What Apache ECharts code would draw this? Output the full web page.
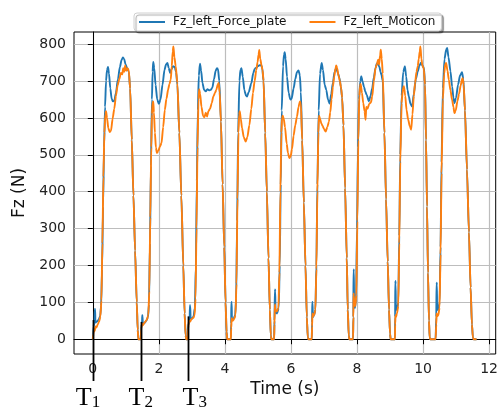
<!DOCTYPE html>
<html><head><meta charset="utf-8">
<script src="https://cdn.jsdelivr.net/npm/echarts@6/dist/echarts.min.js"></script>
<style>html,body{margin:0;padding:0;background:#fff}#c{width:501px;height:410px}</style>
</head><body><div id="c"></div>
<script>
const seriesNames = ['Fz_left_Force_plate', 'Fz_left_Moticon'];
const xTicks = [0, 2, 4, 6, 8, 10, 12];
const yTicks = [0, 100, 200, 300, 400, 500, 600, 700, 800];
const xLabel = 'Time (s)';
const yLabel = 'Fz (N)';

// [time (s), force (N)]
const forcePlate = [
[0,0],[0.02,35],[0.05,45],[0.058,80],[0.07,82],[0.078,45],[0.12,48],[0.17,52],[0.22,62],[0.25,90],[0.28,190],[0.31,360],[0.34,520],[0.37,630],[0.40,700],[0.43,730],[0.46,738],[0.49,720],[0.53,680],[0.57,652],[0.61,645],[0.65,646],[0.70,668],[0.76,705],[0.82,738],[0.87,757],[0.91,764],[0.95,760],[0.99,745],[1.04,735],[1.09,725],[1.13,680],[1.18,540],[1.23,390],[1.28,240],[1.33,100],[1.36,25],[1.38,0],[1.45,0],
[1.465,35],[1.49,40],[1.495,65],[1.505,63],[1.515,40],[1.56,44],[1.62,50],[1.67,60],[1.70,95],[1.73,260],[1.76,470],[1.79,650],[1.81,725],[1.83,752],[1.86,735],[1.90,690],[1.95,650],[2.00,638],[2.05,650],[2.11,690],[2.17,730],[2.22,746],[2.26,749],[2.30,735],[2.34,722],[2.38,732],[2.43,740],[2.48,738],[2.52,725],[2.56,690],[2.62,560],[2.68,390],[2.74,200],[2.78,70],[2.81,10],[2.83,0],[2.87,0],
[2.88,38],[2.93,45],[2.94,92],[2.95,90],[2.96,58],[3.00,55],[3.05,62],[3.09,85],[3.12,200],[3.15,430],[3.18,620],[3.21,715],[3.245,747],[3.28,728],[3.32,695],[3.37,676],[3.42,672],[3.47,678],[3.52,675],[3.57,676],[3.62,682],[3.67,705],[3.72,728],[3.76,735],[3.79,733],[3.83,700],[3.88,590],[3.93,420],[3.98,250],[4.02,100],[4.05,20],[4.07,0],[4.18,0],
[4.19,42],[4.195,101],[4.205,99],[4.212,55],[4.26,55],[4.31,65],[4.34,110],[4.37,320],[4.40,560],[4.44,700],[4.47,730],[4.50,735],[4.54,712],[4.59,675],[4.64,660],[4.67,658],[4.72,670],[4.80,694],[4.86,722],[4.90,733],[4.95,736],[5.00,741],[5.05,743],[5.10,743],[5.13,735],[5.17,700],[5.22,560],[5.27,400],[5.32,220],[5.36,80],[5.39,10],[5.41,0],[5.49,0],
[5.50,50],[5.515,135],[5.525,130],[5.532,72],[5.58,70],[5.63,85],[5.66,200],[5.69,420],[5.72,620],[5.76,740],[5.79,772],[5.81,778],[5.84,760],[5.88,712],[5.93,668],[5.98,650],[6.02,652],[6.08,680],[6.13,705],[6.18,724],[6.23,729],[6.27,715],[6.30,670],[6.34,540],[6.39,370],[6.44,200],[6.48,60],[6.51,5],[6.53,0],[6.63,0],
[6.64,45],[6.645,101],[6.655,98],[6.662,60],[6.70,65],[6.74,80],[6.77,200],[6.80,420],[6.84,620],[6.88,720],[6.93,749],[6.97,730],[7.02,690],[7.07,676],[7.12,650],[7.17,639],[7.22,665],[7.27,695],[7.32,725],[7.37,735],[7.42,722],[7.47,708],[7.51,685],[7.55,655],[7.59,580],[7.64,410],[7.69,220],[7.72,80],[7.75,10],[7.77,0],[7.88,0],
[7.89,60],[7.895,189],[7.905,185],[7.912,90],[7.94,85],[7.97,110],[8.00,300],[8.03,520],[8.06,650],[8.10,700],[8.13,713],[8.17,698],[8.21,685],[8.25,672],[8.29,663],[8.36,645],[8.41,660],[8.46,680],[8.51,710],[8.56,735],[8.60,748],[8.64,745],[8.68,738],[8.71,725],[8.74,717],[8.78,700],[8.83,560],[8.88,380],[8.93,210],[8.97,80],[9.00,15],[9.02,0],[9.15,0],
[9.155,60],[9.16,158],[9.17,150],[9.177,80],[9.21,80],[9.25,100],[9.28,280],[9.31,500],[9.35,660],[9.40,725],[9.45,740],[9.49,712],[9.53,675],[9.57,658],[9.62,638],[9.67,631],[9.72,665],[9.78,705],[9.84,726],[9.89,742],[9.94,750],[9.99,740],[10.03,735],[10.06,690],[10.09,540],[10.12,360],[10.15,180],[10.18,50],[10.20,5],[10.22,0],[10.38,0],
[10.40,60],[10.41,153],[10.42,148],[10.425,80],[10.46,80],[10.50,100],[10.53,250],[10.56,480],[10.60,680],[10.65,760],[10.70,785],[10.73,790],[10.77,765],[10.83,727],[10.88,685],[10.92,655],[10.95,640],[11.00,655],[11.06,690],[11.12,715],[11.18,724],[11.22,705],[11.27,620],[11.33,460],[11.39,290],[11.44,140],[11.48,40],[11.51,5],[11.53,0],[11.62,0]
];

const moticon = [
[0,0],[0.02,15],[0.04,28],[0.06,22],[0.08,35],[0.11,32],[0.15,40],[0.19,48],[0.23,62],[0.26,105],[0.29,260],[0.32,440],[0.35,560],[0.38,610],[0.40,618],[0.43,600],[0.47,572],[0.51,562],[0.55,565],[0.60,598],[0.65,625],[0.70,660],[0.75,688],[0.80,705],[0.85,722],[0.89,718],[0.92,735],[0.95,725],[0.98,742],[1.01,728],[1.05,735],[1.09,728],[1.13,680],[1.18,540],[1.23,390],[1.28,240],[1.33,100],[1.36,25],[1.38,0],[1.45,0],
[1.465,28],[1.49,42],[1.52,38],[1.57,46],[1.63,52],[1.68,65],[1.71,130],[1.74,330],[1.77,520],[1.79,610],[1.81,640],[1.83,645],[1.85,615],[1.88,560],[1.91,520],[1.94,505],[1.98,510],[2.03,522],[2.08,532],[2.13,575],[2.18,622],[2.23,652],[2.28,677],[2.32,692],[2.36,704],[2.39,740],[2.42,780],[2.44,794],[2.47,765],[2.51,740],[2.56,695],[2.62,560],[2.68,390],[2.74,200],[2.78,70],[2.81,10],[2.83,0],[2.87,0],
[2.89,30],[2.91,50],[2.95,48],[2.99,55],[3.04,58],[3.08,64],[3.11,110],[3.14,300],[3.17,520],[3.20,650],[3.22,678],[3.25,665],[3.29,630],[3.34,605],[3.38,602],[3.42,614],[3.46,604],[3.50,618],[3.55,625],[3.60,640],[3.65,658],[3.70,668],[3.74,676],[3.78,690],[3.81,695],[3.84,670],[3.88,590],[3.93,420],[3.98,250],[4.02,100],[4.05,20],[4.07,0],[4.18,0],
[4.19,30],[4.205,57],[4.24,50],[4.28,55],[4.32,65],[4.35,150],[4.38,380],[4.41,560],[4.43,608],[4.45,618],[4.48,598],[4.52,572],[4.57,548],[4.63,536],[4.68,548],[4.74,580],[4.80,625],[4.85,668],[4.90,700],[4.95,730],[4.99,752],[5.02,772],[5.04,784],[5.07,760],[5.11,742],[5.14,730],[5.17,700],[5.22,560],[5.27,400],[5.32,220],[5.36,80],[5.39,10],[5.41,0],[5.49,0],
[5.50,40],[5.515,95],[5.53,80],[5.57,75],[5.62,85],[5.65,180],[5.68,400],[5.71,560],[5.73,600],[5.75,606],[5.78,598],[5.82,575],[5.87,530],[5.91,505],[5.95,491],[5.99,496],[6.03,515],[6.08,552],[6.13,580],[6.18,603],[6.23,630],[6.27,645],[6.30,640],[6.34,540],[6.39,370],[6.44,200],[6.48,60],[6.51,5],[6.53,0],[6.63,0],
[6.64,35],[6.65,70],[6.67,62],[6.70,65],[6.74,80],[6.77,190],[6.80,400],[6.83,560],[6.85,606],[6.88,598],[6.92,585],[6.96,578],[7.00,570],[7.05,563],[7.10,575],[7.15,590],[7.19,615],[7.23,650],[7.27,685],[7.31,712],[7.35,735],[7.37,742],[7.40,735],[7.44,715],[7.48,700],[7.52,680],[7.55,655],[7.59,580],[7.64,410],[7.69,220],[7.72,80],[7.75,10],[7.77,0],[7.88,0],
[7.89,60],[7.895,124],[7.905,118],[7.92,95],[7.95,90],[7.98,120],[8.01,320],[8.04,540],[8.07,660],[8.09,685],[8.11,692],[8.15,668],[8.19,640],[8.23,618],[8.26,595],[8.28,630],[8.32,625],[8.37,638],[8.42,642],[8.46,658],[8.51,700],[8.56,735],[8.60,745],[8.64,758],[8.67,745],[8.70,770],[8.72,785],[8.75,760],[8.78,720],[8.83,560],[8.88,380],[8.93,210],[8.97,80],[9.00,15],[9.02,0],[9.15,0],
[9.155,40],[9.165,65],[9.18,60],[9.21,70],[9.25,90],[9.28,260],[9.31,480],[9.35,640],[9.39,680],[9.42,686],[9.46,660],[9.50,622],[9.55,595],[9.60,577],[9.64,568],[9.68,610],[9.72,660],[9.76,695],[9.80,725],[9.84,740],[9.87,760],[9.90,780],[9.92,794],[9.95,760],[9.98,742],[10.02,735],[10.06,690],[10.09,540],[10.12,360],[10.15,180],[10.18,50],[10.20,5],[10.22,0],[10.38,0],
[10.40,40],[10.41,70],[10.43,62],[10.46,65],[10.50,85],[10.53,230],[10.56,450],[10.60,650],[10.64,720],[10.67,745],[10.70,749],[10.74,728],[10.78,704],[10.83,675],[10.88,649],[10.92,630],[10.95,613],[10.99,620],[11.04,645],[11.09,665],[11.14,688],[11.18,705],[11.20,708],[11.23,690],[11.27,620],[11.33,460],[11.39,290],[11.44,140],[11.48,40],[11.51,5],[11.53,0],[11.62,0]
];

// event markers T1..T3: time (s) and force (N) where each marker line starts
const markerTimes = [0, 1.445, 2.87];
const markerForces = [52, 47, 62];
const markerSubs = ['1', '2', '3'];

const chart = echarts.init(document.getElementById('c'), null, {renderer: 'canvas'});
const FONT = 'DejaVu Sans';
chart.setOption({
  animation: false,
  backgroundColor: '#fff',
  grid: {left: 74, right: -4, top: 32, bottom: 56, show: true, borderColor: '#000', borderWidth: 1, backgroundColor: 'transparent'},
  legend: {
    data: seriesNames, left: 134, top: 13, icon: 'rect', itemWidth: 26, itemHeight: 2, itemGap: 23,
    padding: [3, 6, 3, 5], backgroundColor: '#fff', borderColor: '#d0d0d0', borderWidth: 1, borderRadius: 3,
    shadowColor: 'rgba(0,0,0,0.35)', shadowBlur: 1, shadowOffsetX: 2, shadowOffsetY: 2,
    textStyle: {fontFamily: FONT, fontSize: 12, color: '#111', padding: [0, 0, 0, 3]}
  },
  xAxis: {
    type: 'value', min: -0.57, max: 12.2, splitNumber: 7,
    name: xLabel, nameLocation: 'middle', nameGap: 26,
    nameTextStyle: {fontFamily: FONT, fontSize: 17, color: '#111'},
    axisLine: {lineStyle: {color: '#000', width: 1}},
    axisTick: {show: true, length: 5, lineStyle: {color: '#000'}, customValues: xTicks},
    axisLabel: {fontFamily: FONT, fontSize: 14, color: '#222', margin: 8, customValues: xTicks,
      formatter: v => (xTicks.indexOf(v) >= 0 ? String(v) : '')},
    splitLine: {show: true, lineStyle: {color: '#bdbdbd', width: 1.2}}
  },
  yAxis: {
    type: 'value', min: -40, max: 833, splitNumber: 8,
    name: yLabel, nameLocation: 'middle', nameGap: 41,
    nameTextStyle: {fontFamily: FONT, fontSize: 17, color: '#111'},
    axisLine: {show: true, lineStyle: {color: '#000', width: 1}},
    axisTick: {show: true, length: 5, lineStyle: {color: '#000'}, customValues: yTicks},
    axisLabel: {fontFamily: FONT, fontSize: 14, color: '#222', margin: 8, customValues: yTicks,
      formatter: v => (yTicks.indexOf(v) >= 0 ? String(v) : '')},
    splitLine: {show: true, lineStyle: {color: '#bdbdbd', width: 1.2}}
  },
  series: [
    {name: seriesNames[0], type: 'line', data: forcePlate, symbol: 'none', showSymbol: false,
      smooth: 0.25, smoothMonotone: 'x',
      lineStyle: {color: '#1f77b4', width: 1.9}, itemStyle: {color: '#1f77b4'}, clip: true, z: 3},
    {name: seriesNames[1], type: 'line', data: moticon, symbol: 'none', showSymbol: false,
      smooth: 0.25, smoothMonotone: 'x',
      lineStyle: {color: '#ff7f0e', width: 1.9}, itemStyle: {color: '#ff7f0e'}, clip: true, z: 4}
  ]
});

// T markers positioned through the axis scales
const labelOffsets = [-17, -12, -5];
const graphics = [];
markerTimes.forEach((t, i) => {
  const top = chart.convertToPixel({gridIndex: 0}, [t, markerForces[i]]);
  const x = Math.round(top[0]) + 0.5;
  graphics.push({type: 'line', z: 100, shape: {x1: x, y1: top[1], x2: x, y2: 381},
    style: {stroke: '#000', lineWidth: 1.8}});
  const lx = top[0] + labelOffsets[i];
  graphics.push({type: 'text', z: 100, x: lx, y: 398,
    style: {text: 'T', font: '26px "Liberation Serif"', fill: '#000', align: 'left', verticalAlign: 'middle'}});
  graphics.push({type: 'text', z: 100, x: lx + 16, y: 403,
    style: {text: markerSubs[i], font: '17px "Liberation Serif"', fill: '#000', align: 'left', verticalAlign: 'middle'}});
});
chart.setOption({graphic: graphics});
</script>
</body></html>
